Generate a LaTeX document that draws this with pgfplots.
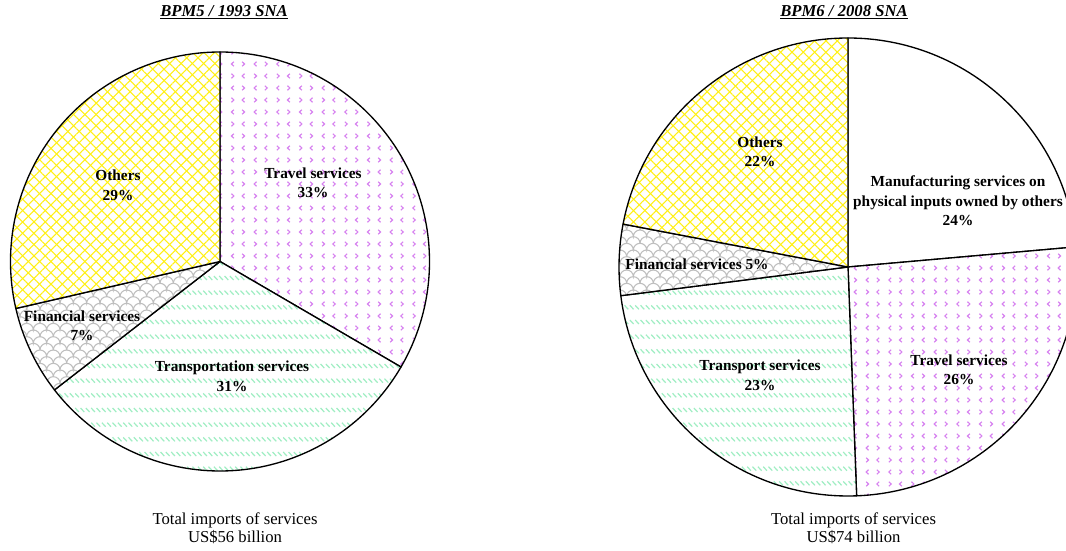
\documentclass[border=0pt]{standalone}
\usepackage{pgfplots}
\pgfplotsset{compat=1.18}
\usepackage{pgfplotstable}
\usepackage{fontspec}
\setmainfont{Liberation Serif}
\usetikzlibrary{patterns,patterns.meta}

\definecolor{pvio}{RGB}{215,130,240}
\definecolor{pgrn}{RGB}{160,238,195}
\definecolor{pgry}{RGB}{190,190,190}
\definecolor{pyel}{RGB}{255,240,20}

\pgfdeclarepatternformonly{chev}{\pgfqpoint{-1pt}{-1pt}}{\pgfqpoint{18pt}{19pt}}{\pgfqpoint{17pt}{18pt}}{%
  \pgfsetlinewidth{0.85pt}%
  \pgfpathmoveto{\pgfqpoint{5.4pt}{6.2pt}}\pgfpathlineto{\pgfqpoint{3.6pt}{4.5pt}}\pgfpathlineto{\pgfqpoint{5.4pt}{2.8pt}}%
  \pgfpathmoveto{\pgfqpoint{11.6pt}{6.2pt}}\pgfpathlineto{\pgfqpoint{13.4pt}{4.5pt}}\pgfpathlineto{\pgfqpoint{11.6pt}{2.8pt}}%
  \pgfpathmoveto{\pgfqpoint{3.6pt}{15.2pt}}\pgfpathlineto{\pgfqpoint{5.4pt}{13.5pt}}\pgfpathlineto{\pgfqpoint{3.6pt}{11.8pt}}%
  \pgfpathmoveto{\pgfqpoint{13.4pt}{15.2pt}}\pgfpathlineto{\pgfqpoint{11.6pt}{13.5pt}}\pgfpathlineto{\pgfqpoint{13.4pt}{11.8pt}}%
  \pgfusepath{stroke}}

\pgfdeclarepatternformonly{gstripe}{\pgfqpoint{-1pt}{-1pt}}{\pgfqpoint{5pt}{12pt}}{\pgfqpoint{4pt}{11pt}}{%
  \pgfsetlinewidth{0.9pt}%
  \pgfpathmoveto{\pgfqpoint{0.4pt}{7.5pt}}\pgfpathlineto{\pgfqpoint{3.2pt}{4.5pt}}%
  \pgfusepath{stroke}}

\pgfdeclarepatternformonly{scales}{\pgfqpoint{-1pt}{-1pt}}{\pgfqpoint{11pt}{11pt}}{\pgfqpoint{10pt}{10pt}}{%
  \pgfsetlinewidth{0.8pt}%
  \pgfpathmoveto{\pgfqpoint{0pt}{0pt}}\pgfpatharc{180}{0}{5pt}%
  \pgfpathmoveto{\pgfqpoint{0pt}{10pt}}\pgfpatharc{90}{0}{5pt}\pgfpatharc{180}{90}{5pt}%
  \pgfusepath{stroke}}

\tikzset{
  travelA/.style={pattern=chev, pattern color=pvio}, travelB/.style={},
  transA/.style={pattern=gstripe, pattern color=pgrn}, transB/.style={},
  finA/.style={pattern=scales, pattern color=pgry}, finB/.style={},
  othersA/.style={pattern={Lines[angle=45,distance=6pt,line width=0.8pt]}, pattern color=pyel},
  othersB/.style={pattern={Lines[angle=-45,distance=6pt,line width=0.8pt]}, pattern color=pyel},
  manuA/.style={}, manuB/.style={},
  lab/.style={font=\fontsize{11.5}{14.6}\selectfont\bfseries, align=center, inner sep=0pt},
  bot/.style={font=\fontsize{12.5}{15}\selectfont, inner sep=0pt},
}

% shares in percent, clockwise from 12 o'clock
\pgfplotstableread{
share style
33.4 travel
31.1 trans
6.9 fin
28.6 others
}\bpmfive
\pgfplotstableread{
share style
23.6 manu
25.8 travel
23.6 trans
5.0 fin
22.0 others
}\bpmsix

\newcommand\slice[6]{%
  \pgfmathsetmacro\rr{#3*0.75}%
  \path[fill=white] (axis cs:#1,#2) -- ++(#4:\rr pt) arc[start angle=#4,end angle=#5,radius=\rr pt] -- cycle;
  \path[#6A] (axis cs:#1,#2) -- ++(#4:\rr pt) arc[start angle=#4,end angle=#5,radius=\rr pt] -- cycle;
  \path[#6B] (axis cs:#1,#2) -- ++(#4:\rr pt) arc[start angle=#4,end angle=#5,radius=\rr pt] -- cycle;
  \draw[line width=1pt, line join=round] (axis cs:#1,#2) -- ++(#4:\rr pt) arc[start angle=#4,end angle=#5,radius=\rr pt] -- cycle;
}
\newcommand\pie[4]{%
  \xdef\curang{90}%
  \pgfplotstablegetrowsof{#4}%
  \pgfmathtruncatemacro\nrows{\pgfplotsretval-1}%
  \foreach \i in {0,...,\nrows}{%
    \pgfplotstablegetelem{\i}{share}\of{#4}\let\v\pgfplotsretval
    \pgfplotstablegetelem{\i}{style}\of{#4}\let\s\pgfplotsretval
    \pgfmathsetmacro\endang{\curang-3.6*\v}%
    \edef\tmp{\noexpand\slice{#1}{#2}{#3}{\curang}{\endang}{\s}}\tmp
    \xdef\curang{\endang}%
  }}

\begin{document}
\begin{tikzpicture}
\begin{axis}[scale only axis, width=799.5pt, height=412.5pt,
  xmin=0, xmax=1066, ymin=0, ymax=550, hide axis, clip=true]
\pgfplotsextra{\pie{220}{288.5}{209.5}{\bpmfive}}
\pgfplotsextra{\pie{848}{283}{229}{\bpmsix}}

% titles
\node[font=\fontsize{12.5}{15}\selectfont\bfseries\itshape, inner sep=0pt] at (axis cs:224,538) {\underline{BPM5 / 1993 SNA}};
\node[font=\fontsize{12.5}{15}\selectfont\bfseries\itshape, inner sep=0pt] at (axis cs:844,538) {\underline{BPM6 / 2008 SNA}};

% left labels
\node[lab] at (axis cs:313,367) {Travel services\\33\%};
\node[lab] at (axis cs:118,364.5) {Others\\29\%};
\node[lab] at (axis cs:82,224) {Financial services\\7\%};
\node[lab] at (axis cs:232,173.5) {Transportation services\\31\%};

% right labels
\node[lab] at (axis cs:760,398) {Others\\22\%};
\node[lab] at (axis cs:958,349) {Manufacturing services on\\physical inputs owned by others\\24\%};
\node[lab] at (axis cs:697,286) {Financial services 5\%};
\node[lab] at (axis cs:760,174.5) {Transport services\\23\%};
\node[lab] at (axis cs:959,180) {Travel services\\26\%};

% bottom texts
\node[bot] at (axis cs:235,30) {Total imports of services};
\node[bot] at (axis cs:235,13) {US\$56 billion};
\node[bot] at (axis cs:853.5,30) {Total imports of services};
\node[bot] at (axis cs:853.5,13) {US\$74 billion};
\end{axis}
\pgfresetboundingbox
\useasboundingbox (current axis.south west) rectangle (current axis.north east);
\end{tikzpicture}
\end{document}
